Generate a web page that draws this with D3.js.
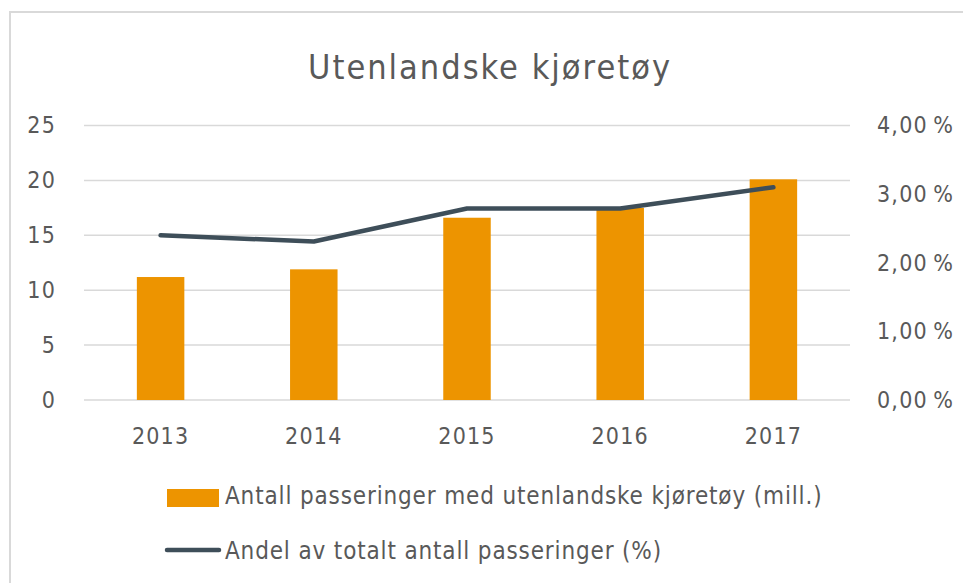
<!DOCTYPE html>
<html>
<head>
<meta charset="utf-8">
<script src="https://cdn.jsdelivr.net/npm/d3@7"></script>
<style>
  body { margin: 0; background: #fff; }
  text { font-family: "DejaVu Sans Condensed", "DejaVu Sans", sans-serif; font-stretch: condensed; fill: #595959; }
</style>
</head>
<body>
<div class="chart"></div>
<script>
var years = ["2013", "2014", "2015", "2016", "2017"];
var passeringer = [11.2, 11.9, 16.6, 17.5, 20.1];   // mill.
var andel = [0.0240, 0.0231, 0.0279, 0.0279, 0.0310]; // share of all passings
var leftTicks = [0, 5, 10, 15, 20, 25];
var rightTicks = [0, 0.01, 0.02, 0.03, 0.04];
var barName = "Antall passeringer med utenlandske kjøretøy (mill.)";
var lineName = "Andel av totalt antall passeringer (%)";

var W = 963, H = 583;
var margin = { top: 125.5, right: 113, bottom: 183, left: 84 };
var barColor = "#ED9400", lineColor = "#3E4E59", gridColor = "#d9d9d9";

var svg = d3.select(".chart").append("svg")
  .attr("width", W).attr("height", H);

svg.append("rect").attr("width", W).attr("height", H).attr("fill", "#fff");
// chart frame (only top and left edges are visible)
svg.append("path")
  .attr("d", "M10," + H + "V12H" + W)
  .attr("fill", "none").attr("stroke", gridColor).attr("stroke-width", 2);

var x = d3.scaleBand().domain(years)
  .range([margin.left, W - margin.right])
  .paddingInner(0.69).paddingOuter(0.345);
var y = d3.scaleLinear().domain([0, 25]).range([H - margin.bottom, margin.top]);
var y2 = d3.scaleLinear().domain([0, 0.04]).range([H - margin.bottom, margin.top]);

svg.append("text")
  .attr("x", 490).attr("y", 79)
  .attr("text-anchor", "middle")
  .style("font-size", "34px")
  .style("letter-spacing", "2px")
  .text("Utenlandske kjøretøy");

// gridlines
svg.selectAll(".grid").data(leftTicks).enter().append("line")
  .attr("x1", margin.left).attr("x2", W - margin.right)
  .attr("y1", function (d) { return y(d); })
  .attr("y2", function (d) { return y(d); })
  .attr("stroke", gridColor).attr("stroke-width", 1.5);

var fmtPct = function (d) { return d3.format(".2f")(d * 100).replace(".", ",") + "\u2009%"; };

var leftAxis = svg.append("g")
  .attr("transform", "translate(" + margin.left + ",0)")
  .call(d3.axisLeft(y).tickValues(leftTicks).tickSize(0).tickPadding(28));
var rightAxis = svg.append("g")
  .attr("transform", "translate(" + (W - margin.right) + ",0)")
  .call(d3.axisRight(y2).tickValues(rightTicks).tickSize(0).tickPadding(27).tickFormat(fmtPct));
var bottomAxis = svg.append("g")
  .attr("transform", "translate(0," + (H - margin.bottom) + ")")
  .call(d3.axisBottom(x).tickSize(0).tickPadding(28));

[leftAxis, rightAxis, bottomAxis].forEach(function (g) {
  g.select(".domain").remove();
  g.selectAll("text").style("font-size", "23px").style("letter-spacing", "1.2px")
    .attr("fill", "#595959");
  g.attr("font-family", null).attr("font-size", null);
});

svg.selectAll(".bar").data(years).enter().append("rect")
  .attr("x", function (d) { return x(d); })
  .attr("width", x.bandwidth())
  .attr("y", function (d, i) { return y(passeringer[i]); })
  .attr("height", function (d, i) { return y(0) - y(passeringer[i]); })
  .attr("fill", barColor);

var line = d3.line()
  .x(function (d, i) { return x(years[i]) + x.bandwidth() / 2; })
  .y(function (d) { return y2(d); });

svg.append("path").datum(andel)
  .attr("d", line)
  .attr("fill", "none")
  .attr("stroke", lineColor)
  .attr("stroke-width", 4.5)
  .attr("stroke-linecap", "round")
  .attr("stroke-linejoin", "round");

// legend
var lg = svg.append("g").style("font-size", "24px").style("letter-spacing", "0.85px");
lg.append("rect").attr("x", 167).attr("y", 489).attr("width", 52).attr("height", 18).attr("fill", barColor);
lg.append("text").attr("x", 225).attr("y", 504).text(barName);
lg.append("line").attr("x1", 167).attr("x2", 219).attr("y1", 550).attr("y2", 550)
  .attr("stroke", lineColor).attr("stroke-width", 4.5).attr("stroke-linecap", "round");
lg.append("text").attr("x", 225).attr("y", 559).text(lineName);
</script>
</body>
</html>
